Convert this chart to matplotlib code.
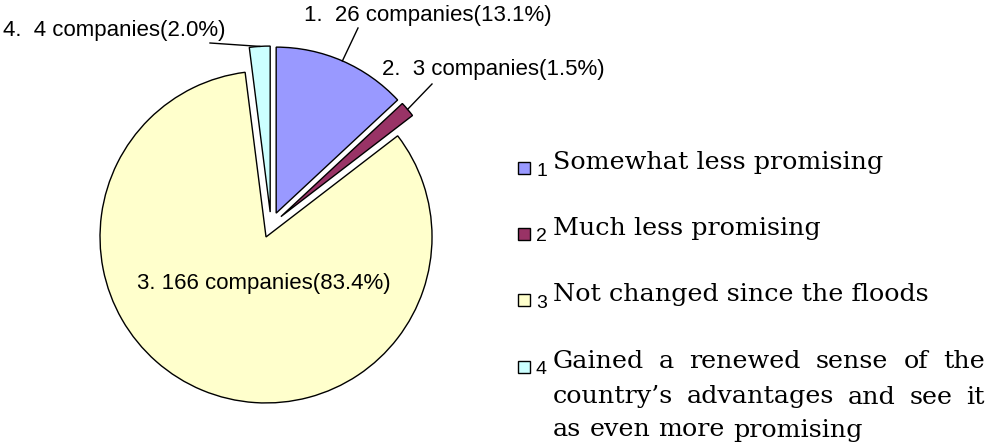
import matplotlib
matplotlib.use("Agg")
import matplotlib.pyplot as plt
import math

# datos del grafico
numeros = ["1", "2", "3", "4"]
empresas = [26, 3, 166, 4]
colores = ["#9999FF", "#993366", "#FFFFCC", "#CCFFFF"]
descripciones = [
    "Somewhat less promising",
    "Much less promising",
    "Not changed since the floods",
]
renglones = [
    "Gained a renewed sense of the",
    "country\u2019s advantages and see it",
    "as even more promising",
]

W, H = 1000, 444
fig = plt.figure(figsize=(W / 100, H / 100), dpi=100)
ax = fig.add_axes([0, 0, 1, 1])

radio = 166
total = sum(empresas)
wedges, _ = ax.pie(empresas, colors=colores, startangle=90, counterclock=False,
                   center=(271, H - 225), radius=radio, explode=[0.078 * radio] * 4,
                   wedgeprops=dict(edgecolor="black", linewidth=1.0))
ax.set_xlim(0, W)
ax.set_ylim(0, H)
ax.set_aspect("equal")
ax.axis("off")

sans = "Liberation Sans"
serif = "DejaVu Serif"
tam_sans = 16
tam_serif = 18.3

# etiquetas de las porciones (posicion del texto en pixeles)
pos_etiquetas = [(304, 16), (382, 69), (137, 283), (3, 31)]
lineas = [(358, 28), (432, 84), None, (210, 43)]
for i, w in enumerate(wedges):
    n = empresas[i]
    p = 100 * n / total
    sep = " " if i == 2 else "  "
    txt = f"{numeros[i]}.{sep}{n} companies({p:.1f}%)"
    x, y = pos_etiquetas[i]
    ax.text(x, H - y, txt, fontsize=tam_sans, family=sans, ha="left", va="center")
    if lineas[i] is not None:
        ang = math.radians((w.theta1 + w.theta2) / 2)
        cx, cy = w.center
        px, py = cx + w.r * math.cos(ang), cy + w.r * math.sin(ang)
        lx, ly = lineas[i]
        ax.plot([lx, px], [H - ly, py], color="black", lw=1.0)

# leyenda
renderer = fig.canvas.get_renderer()
fila_y = [168, 234, 300, 367]
for i in range(4):
    y = H - fila_y[i]
    ax.add_patch(plt.Rectangle((518, y - 6), 12, 12, facecolor=colores[i],
                               edgecolor="black", lw=1.0))
    ax.text(536, y - 3, numeros[i], fontsize=14, family=sans, va="center")
    if i < 3:
        ax.text(553, y + 5, descripciones[i], fontsize=tam_serif, family=serif, va="center")

# texto justificado para la ultima entrada
x0, x1 = 553, 985
y_r = [362, 397, 430]
for k, renglon in enumerate(renglones):
    palabras = renglon.split()
    objs = [ax.text(0, H - y_r[k], p, fontsize=tam_serif, family=serif, va="center")
            for p in palabras]
    anchos = [o.get_window_extent(renderer).width for o in objs]
    if k < len(renglones) - 1:
        gap = (x1 - x0 - sum(anchos)) / (len(palabras) - 1)
    else:
        gap = renderer.points_to_pixels(tam_serif) * 0.32
    x = x0
    for o, a in zip(objs, anchos):
        o.set_x(x)
        x += a + gap

fig.savefig("out.png", dpi=100, facecolor="white")
